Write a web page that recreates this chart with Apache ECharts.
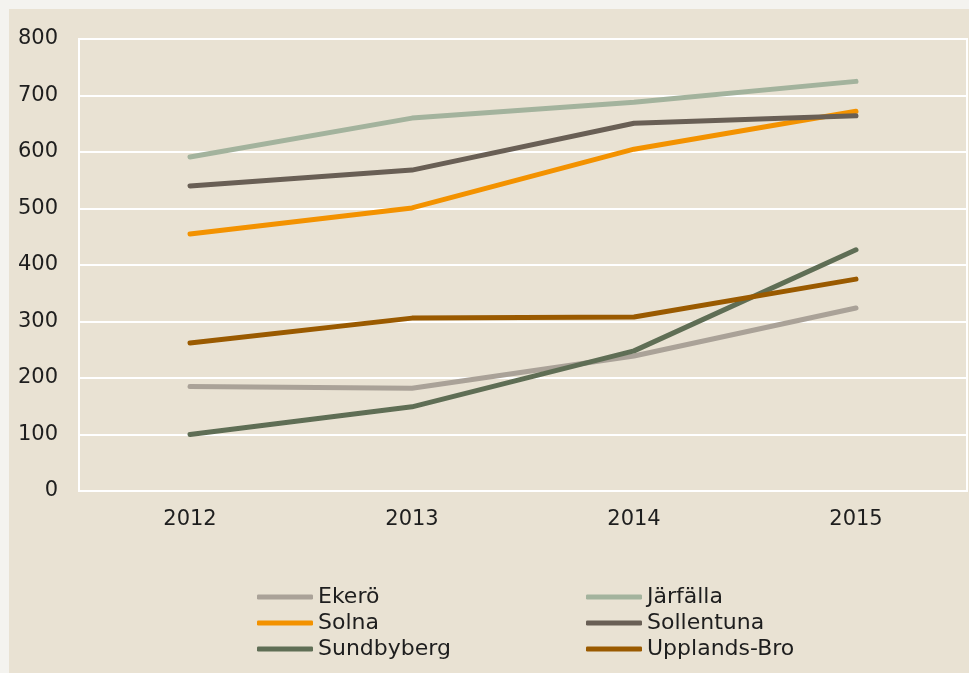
<!DOCTYPE html>
<html>
<head>
    <meta charset="utf-8" />
    <title>ECharts</title>
    <style>
        html, body { margin: 0; padding: 0; background: #f4f3ef; }
        .main { width: 969px; height: 673px; }
    </style>
    <script src="https://cdn.jsdelivr.net/npm/echarts@6/dist/echarts.min.js"></script>
</head>
<body>
    <div class="main"></div>
    <script type="text/javascript">
        // data
        const years = ['2012', '2013', '2014', '2015'];
        const ekero = [185, 182, 239, 324];
        const jarfalla = [591, 660, 688, 725];
        const solna = [455, 501, 605, 672];
        const sollentuna = [540, 568, 651, 664];
        const sundbyberg = [100, 149, 248, 427];
        const upplandsBro = [262, 306, 308, 375];

        const names = ['Ekerö', 'Järfälla', 'Solna', 'Sollentuna', 'Sundbyberg', 'Upplands-Bro'];
        const values = [ekero, jarfalla, solna, sollentuna, sundbyberg, upplandsBro];
        const colors = ['#aaa298', '#a3b39d', '#f39200', '#695f55', '#5f6e55', '#9a5a00'];

        const font = '"DejaVu Sans", "Noto Sans", sans-serif';

        var myChart = echarts.init(document.querySelector('.main'));

        // legend in two columns
        function legendCol(left, data) {
            return {
                orient: 'vertical',
                left: left,
                top: 584,
                data: data,
                icon: 'roundRect',
                itemWidth: 56,
                itemHeight: 5,
                itemGap: 0,
                padding: 0,
                selectedMode: false,
                textStyle: { fontFamily: font, fontSize: 22, color: '#1e1e1e', lineHeight: 26 }
            };
        }

        var option = {
            backgroundColor: '#f4f3ef',
            animation: false,
            graphic: [{
                type: 'rect',
                z: -10,
                shape: { x: 9, y: 9, width: 960, height: 664 },
                style: { fill: '#e9e2d3' }
            }],
            grid: {
                left: 79, top: 39, right: 2, bottom: 182,
                show: true, borderColor: '#ffffff', borderWidth: 2
            },
            legend: [
                legendCol(257, ['Ekerö', 'Solna', 'Sundbyberg']),
                legendCol(586, ['Järfälla', 'Sollentuna', 'Upplands-Bro'])
            ],
            xAxis: {
                type: 'category',
                data: years,
                boundaryGap: true,
                axisLine: { show: true, lineStyle: { color: '#ffffff', width: 2 } },
                axisTick: { show: false },
                axisLabel: { fontFamily: font, fontSize: 21, color: '#1e1e1e', margin: 18 }
            },
            yAxis: {
                type: 'value',
                min: 0, max: 800, interval: 100,
                axisLine: { show: false },
                axisTick: { show: false },
                splitLine: { lineStyle: { color: '#ffffff', width: 2 } },
                axisLabel: { fontFamily: font, fontSize: 21, color: '#1e1e1e', margin: 21 }
            },
            series: names.map(function (n, i) {
                return {
                    name: n,
                    type: 'line',
                    data: values[i],
                    showSymbol: false,
                    symbol: 'none',
                    color: colors[i],
                    lineStyle: { width: 5, cap: 'round', join: 'round', color: colors[i] }
                };
            })
        };
        myChart.setOption(option);
    </script>
</body>
</html>
